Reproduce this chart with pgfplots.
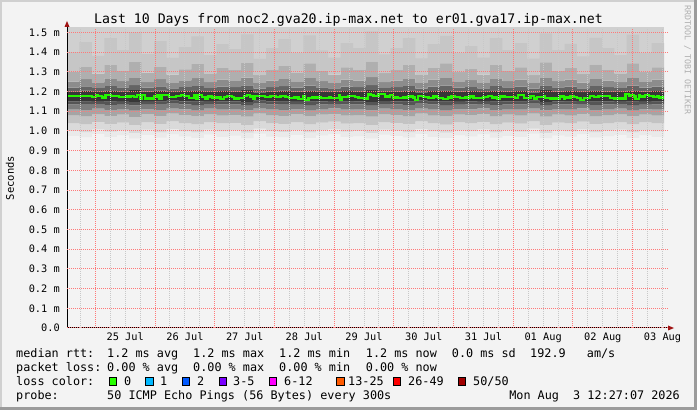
\documentclass[border=0pt]{standalone}
\usepackage{fontspec}
\setmainfont{DejaVu Sans Mono}
\usepackage{pgfplots}
\pgfplotsset{compat=1.18}
\usepackage{pgfplotstable}
\usepgfplotslibrary{fillbetween}

\definecolor{canvas}{RGB}{243,243,243}
\definecolor{bordlight}{RGB}{208,208,208}
\definecolor{borddark}{RGB}{155,155,155}
\definecolor{gridred}{RGB}{255,120,120}
\definecolor{gridgray}{RGB}{200,200,200}
\definecolor{arrowred}{RGB}{160,20,20}
\definecolor{medgreen}{RGB}{38,245,0}
\definecolor{sA}{RGB}{234,234,234}
\definecolor{sB}{RGB}{218,218,218}
\definecolor{sC}{RGB}{195,195,195}
\definecolor{sD}{RGB}{165,165,165}
\definecolor{sE}{RGB}{125,125,125}
\definecolor{sF}{RGB}{85,85,85}
\definecolor{sG}{RGB}{55,55,55}
\definecolor{sH}{RGB}{100,100,100}
\definecolor{sI}{RGB}{140,140,140}
\definecolor{sJ}{RGB}{175,175,175}
\definecolor{sK}{RGB}{198,198,198}
\definecolor{sTop}{RGB}{208,208,208}
\definecolor{l0}{RGB}{38,255,0}
\definecolor{l1}{RGB}{0,184,255}
\definecolor{l2}{RGB}{0,89,255}
\definecolor{l3}{RGB}{122,0,255}
\definecolor{l4}{RGB}{255,0,255}
\definecolor{l5}{RGB}{255,90,0}
\definecolor{l6}{RGB}{255,0,0}
\definecolor{l7}{RGB}{161,0,0}

\newcommand\tickfont{\fontsize{10.3}{12}\selectfont}
\newcommand\lf{\fontsize{11.8}{14}\selectfont}

% smoke boundaries (ms), hours from 25 Jul 00:00
\pgfplotstableread{
h b0 b1 b2 b3 b4 b5 b6 b7 b8 b9 b10 b11
-11.4 0.975 1.000 1.040 1.080 1.110 1.135 1.150 1.200 1.220 1.250 1.300 1.400
-6.4 0.968 0.994 1.034 1.075 1.107 1.133 1.149 1.204 1.226 1.262 1.325 1.450
-1.4 0.985 1.008 1.046 1.085 1.113 1.137 1.152 1.198 1.218 1.246 1.290 1.380
3.6 0.970 0.996 1.036 1.076 1.106 1.132 1.148 1.205 1.228 1.266 1.335 1.470
8.6 0.978 1.003 1.042 1.082 1.111 1.136 1.151 1.200 1.221 1.252 1.305 1.410
13.6 0.962 0.990 1.030 1.071 1.103 1.130 1.147 1.208 1.232 1.272 1.350 1.500
18.6 0.980 1.006 1.044 1.084 1.112 1.136 1.151 1.199 1.219 1.248 1.295 1.390
23.6 0.966 0.993 1.035 1.076 1.107 1.133 1.149 1.204 1.226 1.262 1.325 1.455
28.6 0.984 1.010 1.048 1.087 1.115 1.138 1.153 1.197 1.216 1.244 1.285 1.370
33.6 0.972 0.998 1.039 1.079 1.109 1.134 1.150 1.202 1.223 1.256 1.312 1.425
38.6 0.965 0.992 1.033 1.074 1.105 1.131 1.148 1.206 1.229 1.268 1.340 1.480
43.6 0.982 1.007 1.045 1.085 1.113 1.137 1.152 1.198 1.218 1.247 1.292 1.385
48.6 0.970 0.997 1.038 1.078 1.108 1.134 1.150 1.203 1.225 1.260 1.320 1.440
53.6 0.976 1.002 1.041 1.081 1.110 1.135 1.150 1.201 1.222 1.254 1.308 1.415
58.6 0.963 0.991 1.031 1.072 1.104 1.131 1.147 1.207 1.231 1.270 1.345 1.490
63.6 0.986 1.012 1.049 1.088 1.115 1.138 1.153 1.196 1.215 1.243 1.283 1.365
68.6 0.971 0.999 1.040 1.080 1.110 1.135 1.150 1.201 1.222 1.255 1.310 1.420
73.6 0.968 0.995 1.036 1.076 1.107 1.133 1.149 1.204 1.227 1.264 1.330 1.465
78.6 0.980 1.005 1.044 1.084 1.112 1.136 1.151 1.199 1.219 1.249 1.297 1.395
83.6 0.964 0.992 1.033 1.074 1.105 1.131 1.148 1.206 1.230 1.269 1.343 1.485
88.6 0.977 1.003 1.042 1.082 1.111 1.135 1.150 1.200 1.221 1.252 1.304 1.408
93.6 0.984 1.009 1.047 1.086 1.114 1.137 1.152 1.197 1.216 1.244 1.286 1.372
98.6 0.969 0.996 1.037 1.077 1.108 1.134 1.149 1.203 1.225 1.260 1.322 1.445
103.6 0.973 1.000 1.040 1.080 1.110 1.135 1.150 1.201 1.222 1.255 1.310 1.420
108.6 0.962 0.990 1.031 1.072 1.104 1.131 1.147 1.207 1.232 1.273 1.352 1.505
113.6 0.981 1.006 1.045 1.085 1.113 1.137 1.152 1.198 1.218 1.247 1.293 1.388
118.6 0.975 1.001 1.041 1.081 1.110 1.135 1.150 1.201 1.222 1.255 1.310 1.420
123.6 0.967 0.994 1.035 1.075 1.106 1.132 1.148 1.205 1.228 1.266 1.335 1.470
128.6 0.985 1.010 1.048 1.087 1.115 1.138 1.153 1.196 1.215 1.243 1.284 1.368
133.6 0.970 0.997 1.038 1.078 1.108 1.134 1.149 1.203 1.225 1.260 1.320 1.440
138.6 0.964 0.991 1.032 1.073 1.105 1.131 1.148 1.206 1.230 1.269 1.342 1.482
143.6 0.979 1.004 1.043 1.083 1.112 1.136 1.151 1.199 1.219 1.249 1.298 1.395
148.6 0.972 0.999 1.039 1.079 1.109 1.134 1.150 1.202 1.223 1.257 1.315 1.430
153.6 0.983 1.008 1.046 1.086 1.114 1.137 1.152 1.197 1.216 1.244 1.286 1.372
158.6 0.966 0.993 1.034 1.075 1.106 1.132 1.148 1.205 1.228 1.266 1.335 1.470
163.6 0.975 1.002 1.042 1.082 1.111 1.135 1.150 1.200 1.221 1.252 1.304 1.410
168.6 0.969 0.996 1.037 1.077 1.108 1.134 1.149 1.203 1.225 1.260 1.322 1.445
173.6 0.986 1.011 1.049 1.088 1.115 1.138 1.153 1.196 1.215 1.243 1.283 1.366
178.6 0.963 0.990 1.031 1.072 1.104 1.131 1.147 1.207 1.231 1.271 1.348 1.495
183.6 0.977 1.003 1.042 1.082 1.111 1.135 1.150 1.200 1.221 1.252 1.305 1.410
188.6 0.971 0.998 1.038 1.078 1.108 1.134 1.149 1.203 1.225 1.260 1.320 1.442
193.6 0.984 1.009 1.047 1.086 1.114 1.137 1.152 1.197 1.216 1.245 1.288 1.378
198.6 0.967 0.994 1.035 1.075 1.106 1.132 1.148 1.205 1.228 1.266 1.336 1.472
203.6 0.974 1.001 1.040 1.080 1.110 1.135 1.150 1.201 1.222 1.255 1.310 1.420
208.6 0.980 1.006 1.045 1.085 1.113 1.137 1.152 1.198 1.218 1.247 1.292 1.385
213.6 0.965 0.992 1.033 1.074 1.105 1.131 1.148 1.206 1.230 1.269 1.343 1.488
218.6 0.978 1.004 1.043 1.083 1.112 1.136 1.151 1.199 1.219 1.249 1.298 1.395
223.6 0.970 0.997 1.038 1.078 1.108 1.134 1.149 1.203 1.225 1.260 1.322 1.445
228.6 0.970 0.997 1.038 1.078 1.108 1.134 1.149 1.203 1.225 1.260 1.322 1.445
}\smoke

% median rtt (ms)
\pgfplotstableread{
h v
-11.4 1.175
-1.2 1.172
0.1 1.184
1.2 1.177
2.8 1.169
4.1 1.181
6.2 1.175
7.5 1.179
9.5 1.170
12.2 1.174
14.2 1.179
15.6 1.172
16.9 1.181
17.8 1.164
18.9 1.181
20.0 1.164
23.6 1.174
24.9 1.181
25.8 1.164
26.9 1.181
29.6 1.170
32.3 1.175
34.3 1.181
35.7 1.175
37.7 1.167
39.7 1.181
40.3 1.162
41.4 1.181
43.0 1.172
44.3 1.160
45.4 1.174
47.0 1.169
50.3 1.160
51.6 1.170
52.9 1.179
55.0 1.172
55.6 1.164
57.6 1.167
59.6 1.175
61.0 1.181
62.3 1.174
63.6 1.164
64.3 1.175
66.3 1.179
68.3 1.170
70.4 1.177
72.4 1.170
74.4 1.177
76.4 1.172
77.7 1.167
79.7 1.169
81.7 1.162
83.7 1.175
84.4 1.158
85.7 1.165
87.1 1.169
90.5 1.167
93.8 1.170
94.5 1.167
97.8 1.184
98.2 1.157
99.2 1.170
101.6 1.179
104.3 1.170
105.8 1.167
107.9 1.164
109.6 1.189
110.6 1.184
111.8 1.177
113.8 1.186
116.5 1.174
118.5 1.181
119.8 1.169
121.8 1.165
123.8 1.169
125.8 1.174
127.8 1.169
128.5 1.158
129.8 1.177
131.9 1.172
133.9 1.165
135.9 1.174
137.9 1.167
139.9 1.162
141.9 1.169
143.2 1.177
144.6 1.172
146.6 1.167
148.6 1.169
150.6 1.174
152.0 1.167
156.0 1.170
158.0 1.175
159.3 1.169
161.3 1.164
162.7 1.174
164.7 1.170
168.7 1.165
170.0 1.182
172.2 1.167
174.9 1.179
176.2 1.164
177.6 1.172
180.2 1.175
180.9 1.165
182.9 1.164
186.9 1.174
188.3 1.164
188.9 1.169
191.0 1.179
192.3 1.172
193.6 1.167
195.0 1.158
196.3 1.167
197.7 1.165
199.0 1.179
200.3 1.170
202.3 1.179
207.0 1.167
208.4 1.164
212.4 1.162
213.1 1.186
214.4 1.177
215.1 1.184
216.4 1.174
217.1 1.162
218.4 1.184
219.1 1.174
221.1 1.184
222.4 1.177
224.4 1.172
225.8 1.179
226.5 1.169
228.6 1.169
}\median

\begin{document}
\begin{tikzpicture}
\begin{scope}[x=1pt,y=1pt]
\fill[canvas] (0,0) rectangle (697,410);
\fill[bordlight] (0,408) rectangle (697,410);
\fill[bordlight] (0,0) rectangle (2,410);
\fill[borddark] (0,0) rectangle (697,3);
\fill[borddark] (694,0) rectangle (697,410);
\end{scope}

\begin{axis}[
  at={(67pt,82pt)}, anchor=south west,
  scale only axis, width=601pt, height=300pt,
  xmin=-11.4, xmax=230.2, ymin=0, ymax=1.522,
  axis on top,
  fill between/on layer=main,
  axis background/.style={fill=white},
  axis line style={draw=none},
  /pgf/number format/assume math mode=true,
  xtick={12,36,60,84,108,132,156,180,204,228},
  xticklabels={25 Jul,26 Jul,27 Jul,28 Jul,29 Jul,30 Jul,31 Jul,01 Aug,02 Aug,03 Aug},
  minor xtick={-6,6,12,18,30,36,42,54,60,66,78,84,90,102,108,114,126,132,138,150,156,162,174,180,186,198,204,210,222,228},
  xminorgrids=true,
  minor grid style={draw=gridgray, line width=1pt, dash pattern=on 1pt off 1pt},
  minor tick length=0pt,
  major tick length=0pt,
  tick style={draw=none},
  extra x ticks={0,24,48,72,96,120,144,168,192,216},
  extra x tick labels={},
  extra x tick style={xmajorgrids=true},
  ytick={0,0.1,0.2,0.3,0.4,0.5,0.6,0.7,0.8,0.9,1.0,1.1,1.2,1.3,1.4,1.5},
  yticklabels={0.0,0.1 m,0.2 m,0.3 m,0.4 m,0.5 m,0.6 m,0.7 m,0.8 m,0.9 m,1.0 m,1.1 m,1.2 m,1.3 m,1.4 m,1.5 m},
  ymajorgrids=true,
  major grid style={draw=gridred, line width=1pt, dash pattern=on 1pt off 1pt},
  ticklabel style={font=\tickfont, inner sep=0pt},
  yticklabel style={anchor=east, xshift=-7pt},
  xticklabel style={anchor=base, yshift=-13pt},
]
\addplot[fill=sTop, draw=none] coordinates {(-11.4,1.3) (228.6,1.3) (228.6,1.53) (-11.4,1.53)};
\addplot[draw=none, const plot, name path=B0] table[x=h,y=b0] {\smoke};
\addplot[draw=none, const plot, name path=B1] table[x=h,y=b1] {\smoke};
\addplot[draw=none, const plot, name path=B2] table[x=h,y=b2] {\smoke};
\addplot[draw=none, const plot, name path=B3] table[x=h,y=b3] {\smoke};
\addplot[draw=none, const plot, name path=B4] table[x=h,y=b4] {\smoke};
\addplot[draw=none, const plot, name path=B5] table[x=h,y=b5] {\smoke};
\addplot[draw=none, const plot, name path=B6] table[x=h,y=b6] {\smoke};
\addplot[draw=none, const plot, name path=B7] table[x=h,y=b7] {\smoke};
\addplot[draw=none, const plot, name path=B8] table[x=h,y=b8] {\smoke};
\addplot[draw=none, const plot, name path=B9] table[x=h,y=b9] {\smoke};
\addplot[draw=none, const plot, name path=B10] table[x=h,y=b10] {\smoke};
\addplot[draw=none, const plot, name path=B11] table[x=h,y=b11] {\smoke};
\addplot[fill=sA, draw=none] fill between[of=B0 and B1];
\addplot[fill=sB, draw=none] fill between[of=B1 and B2];
\addplot[fill=sC, draw=none] fill between[of=B2 and B3];
\addplot[fill=sD, draw=none] fill between[of=B3 and B4];
\addplot[fill=sE, draw=none] fill between[of=B4 and B5];
\addplot[fill=sF, draw=none] fill between[of=B5 and B6];
\addplot[fill=sG, draw=none] fill between[of=B6 and B7];
\addplot[fill=sH, draw=none] fill between[of=B7 and B8];
\addplot[fill=sI, draw=none] fill between[of=B8 and B9];
\addplot[fill=sJ, draw=none] fill between[of=B9 and B10];
\addplot[fill=sK, draw=none] fill between[of=B10 and B11];
\addplot[medgreen, line width=2.2pt, const plot, mark=none] table[x=h,y=v] {\median};
\end{axis}

\begin{scope}[x=1pt,y=1pt]
% axes lines and arrows
\draw[black, line width=1pt] (67,82) -- (668,82);
\draw[black, line width=1pt] (67,82) -- (67,384);
\fill[arrowred] (668,79.5) -- (674,82) -- (668,84.5) -- cycle;
\fill[arrowred] (64.5,383) -- (67,389) -- (69.5,383) -- cycle;
% title
\node[anchor=base, inner sep=0pt, font=\fontsize{13.2}{15}\selectfont] at (348.5,386) {Last 10 Days from noc2.gva20.ip-max.net to er01.gva17.ip-max.net};
% y label
\node[rotate=90, inner sep=0pt, font=\fontsize{10.5}{12}\selectfont] at (10,232) {Seconds};
% watermark
\node[rotate=-90, inner sep=0pt, text={rgb,255:red,175;green,175;blue,175}, font=\fontsize{8.3}{10}\selectfont] at (687.5,350) {RRDTOOL / TOBI OETIKER};
% legend
\begin{scope}[every node/.style={anchor=base west, inner sep=0pt, font=\lf}]
\node at (16,52) {median rtt:};
\node at (107,52) {1.2 ms avg};
\node at (193,52) {1.2 ms max};
\node at (279,52) {1.2 ms min};
\node at (365.7,52) {1.2 ms now};
\node at (451.7,52) {0.0 ms sd};
\node at (530,52) {192.9};
\node at (586.7,52) {am/s};
\node at (16,38) {packet loss:};
\node at (107,38) {0.00 \% avg};
\node at (193,38) {0.00 \% max};
\node at (279,38) {0.00 \% min};
\node at (365.7,38) {0.00 \% now};
\node at (16,24) {loss color:};
\node at (124,24) {0};
\node at (160,24) {1};
\node at (197,24) {2};
\node at (233,24) {3-5};
\node at (284,24) {6-12};
\node at (348,24) {13-25};
\node at (408,24) {26-49};
\node at (473,24) {50/50};
\node at (16,10) {probe:};
\node at (107,10) {50 ICMP Echo Pings (56 Bytes) every 300s};
\node[anchor=base east] at (680,10) {Mon Aug~~3 12:27:07 2026};
\end{scope}
\foreach \bx/\c in {109/l0,145.7/l1,182.3/l2,219/l3,269.3/l4,336.7/l5,393.3/l6,458.3/l7}{
  \filldraw[fill=\c, draw=black, line width=1pt] (\bx,24.5) rectangle ++(7.5,7.5);
}
\end{scope}
\end{tikzpicture}
\end{document}
